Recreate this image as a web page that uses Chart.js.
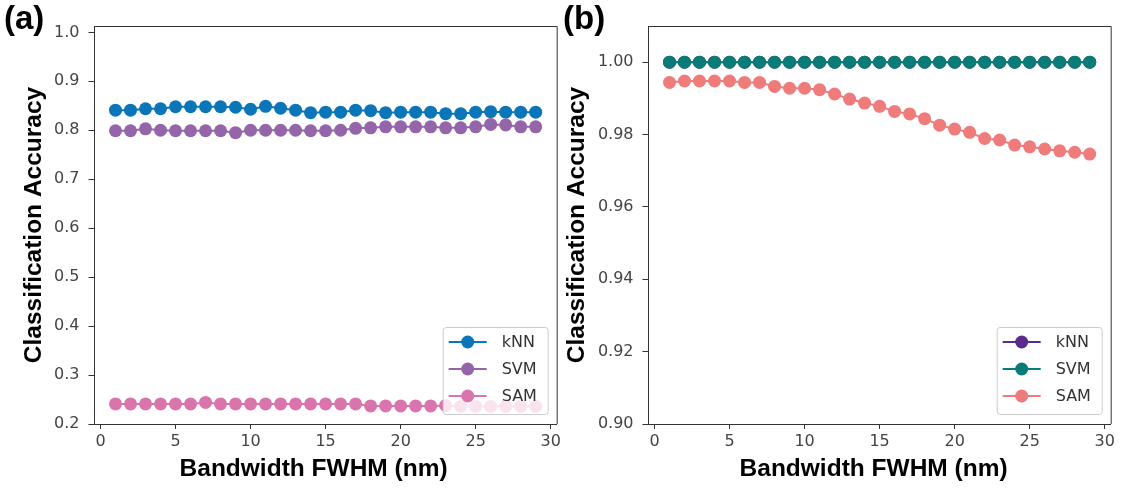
<!DOCTYPE html>
<html>
<head>
<meta charset="utf-8">
<script src="https://cdn.jsdelivr.net/npm/chart.js@4.4.1/dist/chart.umd.min.js"></script>
<style>
  body { margin: 0; background: #fff; width: 1121px; height: 490px; position: relative; overflow: hidden; }
  canvas { position: absolute; top: 0; }
  .tag { position: absolute; font: bold 33px "Liberation Sans", Arial, sans-serif; color: #000; }
</style>
</head>
<body>
<canvas id="chartA" width="575" height="490" style="left:0"></canvas>
<canvas id="chartB" width="567" height="490" style="left:554px"></canvas>
<div class="tag" style="left:4px;top:-1px">(a)</div>
<div class="tag" style="left:563px;top:-1px">(b)</div>
<script>
// bandwidth FWHM (nm)
var fwhm = [1, 2, 3, 4, 5, 6, 7, 8, 9, 10, 11, 12, 13, 14, 15, 16, 17, 18, 19, 20, 21, 22, 23, 24, 25, 26, 27, 28, 29];

// (a) accuracies
var knnA = [0.841, 0.841, 0.844, 0.844, 0.848, 0.848, 0.848, 0.848, 0.847, 0.843, 0.849, 0.845, 0.841, 0.836, 0.837,
            0.837, 0.841, 0.840, 0.836, 0.837, 0.837, 0.837, 0.834, 0.834, 0.837, 0.838, 0.837, 0.837, 0.837];
var svmA = [0.799, 0.799, 0.803, 0.800, 0.799, 0.799, 0.799, 0.799, 0.795, 0.800, 0.800, 0.800, 0.800, 0.799, 0.799,
            0.800, 0.804, 0.805, 0.807, 0.807, 0.807, 0.807, 0.805, 0.805, 0.807, 0.812, 0.811, 0.807, 0.807];
var samA = [0.241, 0.241, 0.241, 0.241, 0.241, 0.241, 0.244, 0.241, 0.241, 0.241, 0.241, 0.241, 0.241, 0.241, 0.241,
            0.241, 0.241, 0.237, 0.237, 0.237, 0.237, 0.237, 0.238, 0.236, 0.236, 0.236, 0.236, 0.236, 0.236];

// (b) accuracies
var knnB = [1.00, 1.00, 1.00, 1.00, 1.00, 1.00, 1.00, 1.00, 1.00, 1.00, 1.00, 1.00, 1.00, 1.00, 1.00,
            1.00, 1.00, 1.00, 1.00, 1.00, 1.00, 1.00, 1.00, 1.00, 1.00, 1.00, 1.00, 1.00, 1.00];
var svmB = [1.00, 1.00, 1.00, 1.00, 1.00, 1.00, 1.00, 1.00, 1.00, 1.00, 1.00, 1.00, 1.00, 1.00, 1.00,
            1.00, 1.00, 1.00, 1.00, 1.00, 1.00, 1.00, 1.00, 1.00, 1.00, 1.00, 1.00, 1.00, 1.00];
var samB = [0.9944, 0.9948, 0.9948, 0.9948, 0.9948, 0.9944, 0.9944, 0.9933, 0.9928, 0.9928, 0.9924, 0.9912, 0.9898, 0.9887, 0.9878,
            0.9864, 0.9857, 0.9844, 0.9826, 0.9815, 0.9806, 0.9789, 0.9785, 0.9771, 0.9766, 0.9760, 0.9755, 0.9751, 0.9746];

var xTicks = [0, 5, 10, 15, 20, 25, 30];
var yTicksA = [0.2, 0.3, 0.4, 0.5, 0.6, 0.7, 0.8, 0.9, 1.0];
var yTicksB = [0.90, 0.92, 0.94, 0.96, 0.98, 1.00];

var tickFont = { family: 'DejaVu Sans', size: 16 };
var titleFont = { family: 'Liberation Sans', size: 24.5, weight: 'bold' };

function series(label, values, color, order) {
    return {
        label: label,
        data: fwhm.map(function (x, i) { return { x: x, y: values[i] }; }),
        order: order,
        borderColor: color,
        backgroundColor: color,
        borderWidth: 2,
        pointRadius: 6.5,
        pointBorderWidth: 0,
        pointBackgroundColor: color,
        tension: 0
    };
}

// top/right spines, x label and a matplotlib style legend box in the lower right corner
var frameAndLegend = {
    id: 'frameAndLegend',
    afterDatasetsDraw: function (chart, args, opts) {
        var ctx = chart.ctx, a = chart.chartArea;
        ctx.save();
        ctx.strokeStyle = '#333';
        ctx.lineWidth = 1;
        ctx.beginPath();
        ctx.moveTo(a.left, a.top + 0.5);
        ctx.lineTo(a.right + 0.5, a.top + 0.5);
        ctx.lineTo(a.right + 0.5, a.bottom);
        ctx.stroke();

        var x = a.right - opts.right - opts.width;
        var y = a.bottom - opts.bottom - opts.height;
        ctx.beginPath();
        ctx.roundRect(x + 0.5, y + 0.5, opts.width, opts.height, 3);
        ctx.fillStyle = 'rgba(255,255,255,0.8)';
        ctx.fill();
        ctx.strokeStyle = '#cccccc';
        ctx.stroke();

        ctx.font = '16px "DejaVu Sans"';
        ctx.textBaseline = 'middle';
        chart.data.datasets.forEach(function (ds, i) {
            var cy = y + opts.rowTop + i * opts.rowGap;
            ctx.strokeStyle = ds.borderColor;
            ctx.lineWidth = 2;
            ctx.beginPath();
            ctx.moveTo(x + 6, cy);
            ctx.lineTo(x + 44, cy);
            ctx.stroke();
            ctx.fillStyle = ds.borderColor;
            ctx.beginPath();
            ctx.arc(x + 25, cy, 6.5, 0, Math.PI * 2);
            ctx.fill();
            ctx.fillStyle = '#333';
            ctx.fillText(ds.label, x + 59, cy + 1);
        });

        ctx.font = 'bold 24.5px "Liberation Sans"';
        ctx.fillStyle = '#000';
        ctx.textAlign = 'center';
        ctx.fillText(opts.xLabel, (a.left + a.right) / 2 + opts.xLabelShift, 469);
        ctx.restore();
    }
};

function makeChart(id, datasets, yMin, yMax, yTicks, digits, titlePad, rightPad, xShift) {
    return new Chart(document.getElementById(id), {
        type: 'line',
        data: { datasets: datasets },
        plugins: [frameAndLegend],
        options: {
            responsive: false,
            animation: false,
            layout: { padding: { top: 26, left: 0, right: rightPad, bottom: 0 } },
            plugins: {
                legend: { display: false },
                tooltip: { enabled: false },
                frameAndLegend: {
                    width: 105, height: 87, right: 9, bottom: 10, rowTop: 15, rowGap: 27,
                    xLabel: 'Bandwidth FWHM (nm)', xLabelShift: xShift
                }
            },
            scales: {
                x: {
                    type: 'linear',
                    min: -0.4,
                    max: 30.4,
                    afterFit: function (s) { s.height = 66; },
                    afterBuildTicks: function (s) { s.ticks = xTicks.map(function (v) { return { value: v }; }); },
                    ticks: { font: tickFont, color: '#444', padding: 3, maxRotation: 0 },
                    grid: { drawOnChartArea: false, tickLength: 5, tickColor: '#333' },
                    border: { color: '#333', width: 1 }
                },
                y: {
                    min: yMin,
                    max: yMax,
                    afterFit: function (s) { s.width = 94.5; },
                    afterBuildTicks: function (s) { s.ticks = yTicks.map(function (v) { return { value: v }; }); },
                    ticks: {
                        font: tickFont, color: '#444', padding: 9,
                        callback: function (v) { return Number(v).toFixed(digits); }
                    },
                    grid: { drawOnChartArea: false, tickLength: 6, tickColor: '#333' },
                    border: { color: '#333', width: 1 },
                    title: { display: true, text: 'Classification Accuracy', font: titleFont, color: '#000', padding: { top: titlePad, bottom: 0 } }
                }
            }
        }
    });
}

// later series sit on top of earlier ones
makeChart('chartA', [
    series('kNN', knnA, '#0a76b9', 3),
    series('SVM', svmA, '#9565aa', 2),
    series('SAM', samA, '#da74ad', 1)
], 0.2, 1.013, yTicksA, 1, 20, 18.3, -12);

makeChart('chartB', [
    series('kNN', knnB, '#5c2a8a', 3),
    series('SVM', svmB, '#0a7c78', 2),
    series('SAM', samB, '#ef7b7b', 1)
], 0.9, 1.01, yTicksB, 2, 9, 10.3, -6);
</script>
</body>
</html>
